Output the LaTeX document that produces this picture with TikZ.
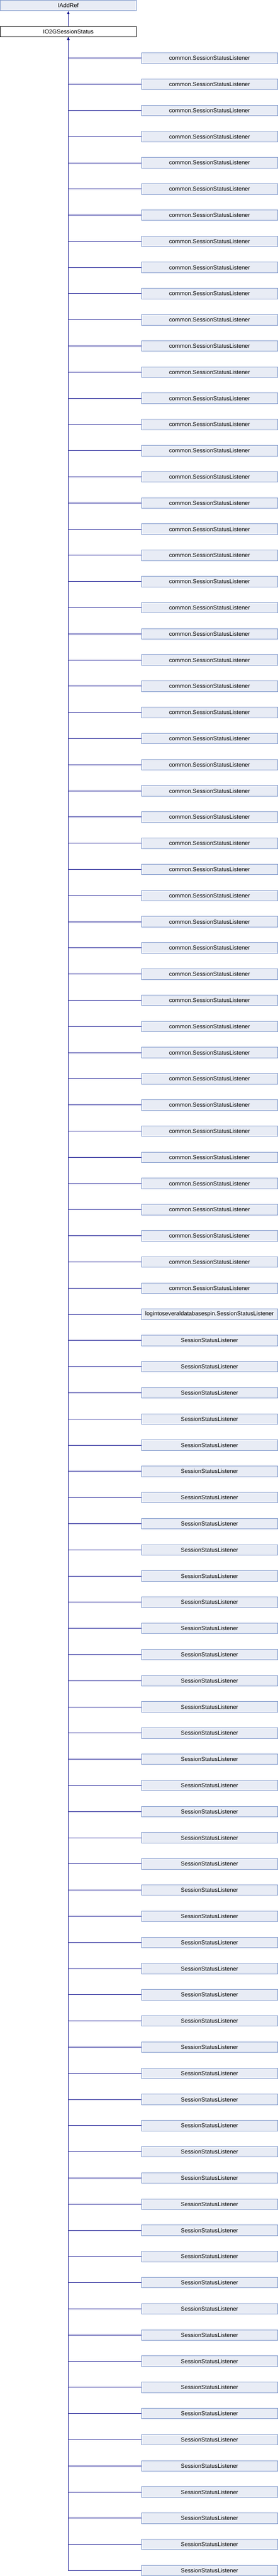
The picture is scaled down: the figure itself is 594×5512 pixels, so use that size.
\documentclass[tikz,border=0pt]{standalone}
\usepackage{fontspec}
\setmainfont{Liberation Sans}
\usetikzlibrary{arrows.meta}
\definecolor{boxfill}{RGB}{232,236,245}
\definecolor{boxline}{RGB}{124,149,202}
\definecolor{edgecol}{RGB}{10,10,140}
\tikzset{
  basebox/.style={draw=boxline, fill=boxfill, line width=1pt, inner sep=0pt,
    minimum width=291.5pt, minimum height=22.6pt, font=\fontsize{12.3pt}{14pt}\selectfont},
  mainbox/.style={draw=black, fill=white, line width=1pt, inner sep=0pt,
    minimum width=291.5pt, minimum height=22.6pt, font=\fontsize{12.3pt}{14pt}\selectfont},
  childbox/.style={basebox},
  edge/.style={draw=edgecol, line width=1pt, -{Triangle[length=6pt,width=4.5pt]}}
}
\begin{document}
\begin{tikzpicture}[x=1pt,y=-1pt]
\useasboundingbox (0,0) rectangle (594,5512);
\node[basebox] (iaddref) at (146,11.7) {IAddRef};
\node[mainbox] (io2g) at (146,68) {IO2GSessionStatus};
\draw[edge] (io2g.north) -- (iaddref.south);
\foreach \i in {0,...,96}{
  \pgfmathsetmacro{\yy}{124.3+56*\i}
  \ifnum\i<48
    \node[childbox] (c\i) at (447.8,\yy) {common.SessionStatusListener};
  \else\ifnum\i=48
    \node[childbox] (c\i) at (447.8,\yy) {logintoseveraldatabasespin.SessionStatusListener};
  \else
    \node[childbox] (c\i) at (447.8,\yy) {SessionStatusListener};
  \fi\fi
  \draw[edge] (c\i.west) -| (io2g.south);
}
\end{tikzpicture}
\end{document}
